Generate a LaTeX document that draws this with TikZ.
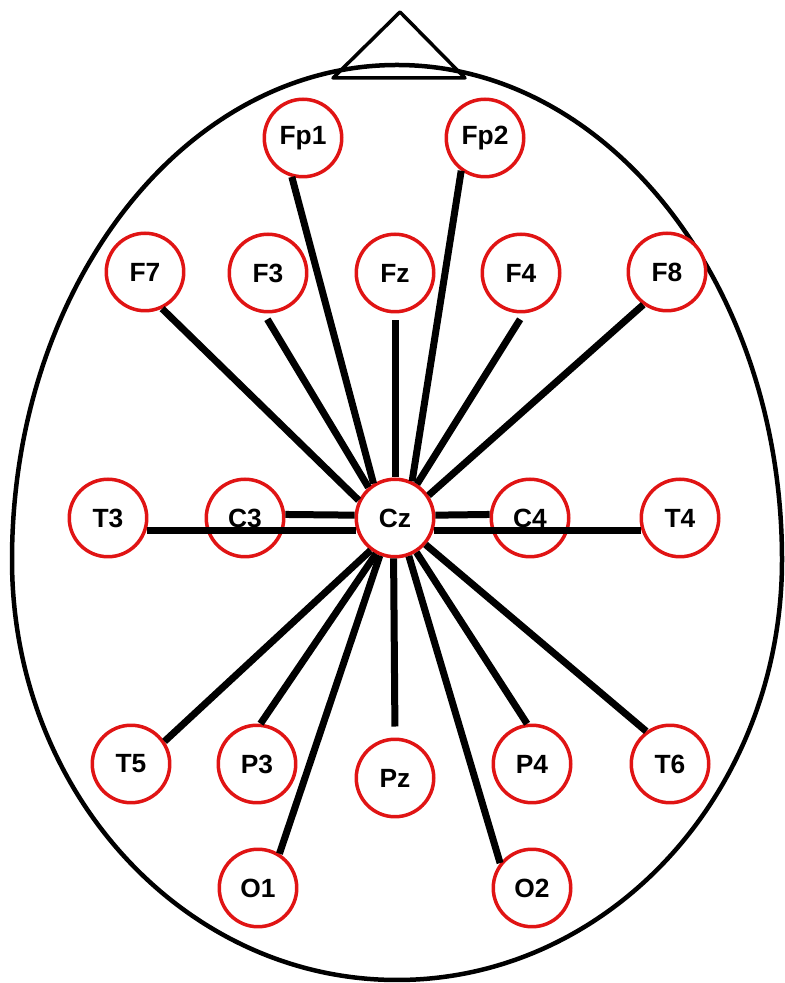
\documentclass[tikz,border=0pt]{standalone}
\usepackage{fontspec}
\setmainfont{Liberation Sans}
\usepackage{xcolor}
\definecolor{elred}{HTML}{E01414}

\begin{document}
\begin{tikzpicture}[x=0.02cm, y=0.02cm,
    el/.style={draw=elred, line width=0.07cm, circle, minimum size=1.55cm, inner sep=0, fill=white, font=\fontsize{15}{18}\selectfont\bfseries},
    wire/.style={line width=0.14cm}]
\useasboundingbox (0,0) rectangle (784,983);
\draw[line width=0.09cm] (12,423) arc[start angle=180, end angle=0, x radius=385, y radius=495] arc[start angle=0, end angle=-180, x radius=385, y radius=420];
\draw[line width=0.07cm, line join=round] (333,905) -- (400,971) -- (465,905) -- cycle;
\node[el] (Fp1) at (303,845) {Fp1};
\node[el] (Fp2) at (485,845) {Fp2};
\node[el] (F7) at (145,711) {F7};
\node[el] (F3) at (268,710) {F3};
\node[el] (Fz) at (395,710) {Fz};
\node[el] (F4) at (521,710) {F4};
\node[el] (F8) at (667,711) {F8};
\node[el] (T3) at (108,465) {T3};
\node[el] (C3) at (245,465) {C3};
\node[el] (Cz) at (395,465) {Cz};
\node[el] (C4) at (530,465) {C4};
\node[el] (T4) at (680,465) {T4};
\node[el] (T5) at (131,219) {T5};
\node[el] (P3) at (257,219) {P3};
\node[el] (Pz) at (395,205) {Pz};
\node[el] (P4) at (532,219) {P4};
\node[el] (T6) at (670,219) {T6};
\node[el] (O1) at (258,95) {O1};
\node[el] (O2) at (532,95) {O2};
\draw[wire] (Fp1.-106) -- (Cz.122);
\draw[wire] (Fp2.-126) -- (Cz.65);
\draw[wire] (F7.-65) -- (Cz.154);
\draw[wire, shorten <=0.14cm] (F3.-96) -- (Cz.131);
\draw[wire, shorten <=0.14cm] (Fz.south) -- (Cz.north);
\draw[wire, shorten <=0.14cm] (F4.-86) -- (Cz.57);
\draw[wire] (F8.-126) -- (Cz.34);
\draw[wire] (T3.-18) -- (Cz.-162);
\draw[wire] (C3.5) -- (Cz.176);
\draw[wire] (C4.175) -- (Cz.4);
\draw[wire] (T4.-162) -- (Cz.-18);
\draw[wire] (T5.34) -- (Cz.-127);
\draw[wire] (P3.85) -- (Cz.-118);
\draw[wire] (O1.58) -- (Cz.-112);
\draw[wire, shorten <=0.22cm] (Pz.north) -- (Cz.-92);
\draw[wire] (O2.142) -- (Cz.-70);
\draw[wire] (P4.97) -- (Cz.-58);
\draw[wire] (T6.126) -- (Cz.-41);
\end{tikzpicture}
\end{document}
